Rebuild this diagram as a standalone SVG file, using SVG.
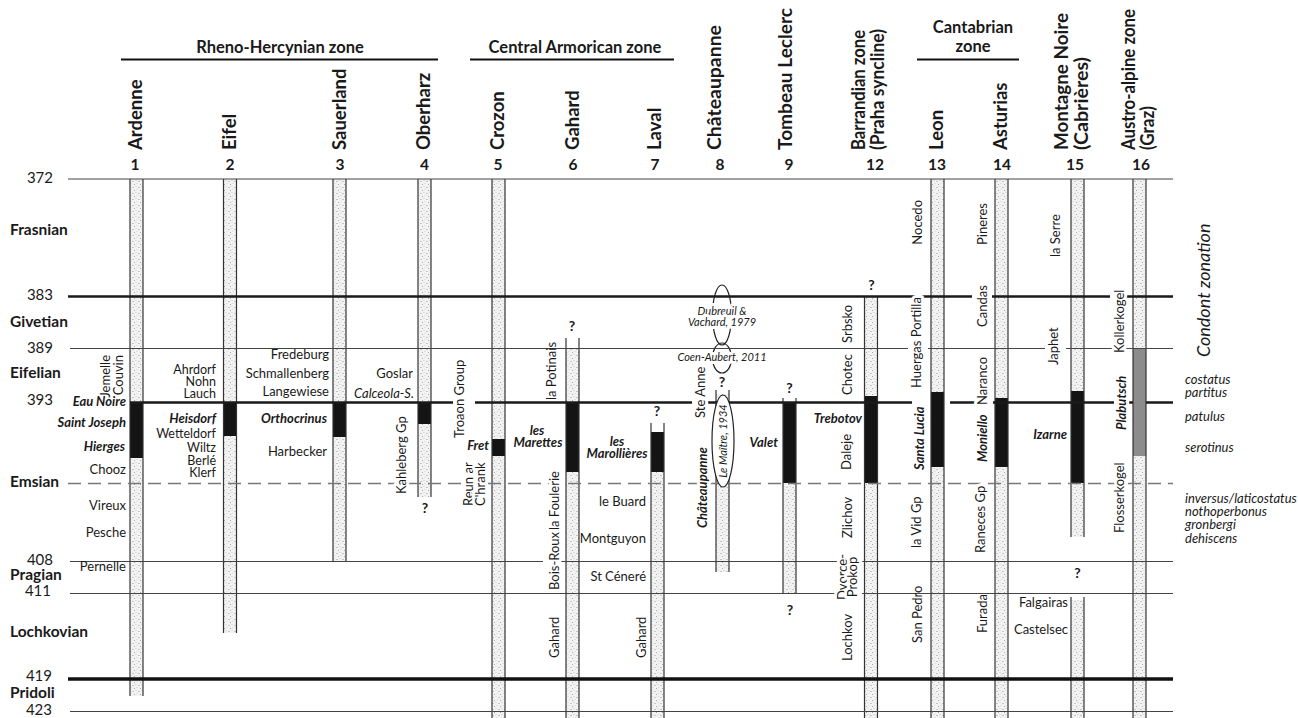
<svg xmlns="http://www.w3.org/2000/svg" width="1298" height="718" viewBox="0 0 1298 718">
<defs>
<pattern id="dots" patternUnits="userSpaceOnUse" width="6" height="6">
<rect width="6" height="6" fill="#f3f3f3"/>
<circle cx="1" cy="1.5" r="0.55" fill="#8a8a8a"/>
<circle cx="4" cy="0.5" r="0.45" fill="#a0a0a0"/>
<circle cx="2.5" cy="4.5" r="0.5" fill="#909090"/>
<circle cx="5" cy="3.5" r="0.4" fill="#aaaaaa"/>
</pattern>
</defs>
<style>
text{font-family:Lato,"Open Sans","DejaVu Sans",sans-serif;fill:#1a1a1a}
.hdr{font-size:16.5px;font-weight:bold;text-anchor:middle}
.ct{font-size:18.5px;font-weight:bold}
.num{font-size:15.5px;font-weight:bold;text-anchor:middle}
.age{font-size:15px;text-anchor:end}
.stg{font-size:15.5px;font-weight:bold}
.f{font-size:13px}
.s{font-size:12.5px}
.bi{font-size:13px;font-weight:bold;font-style:italic}
.it{font-size:13px;font-style:italic}
.ref{font-size:11px;font-style:italic}
.q{font-size:14px;font-weight:bold;text-anchor:middle}
.h{paint-order:stroke;stroke:#fff;stroke-width:6px;stroke-linejoin:round}
.e{text-anchor:end}
.m{text-anchor:middle}
.thin{stroke:#444;stroke-width:1;fill:none}
.thick{stroke:#1a1a1a;stroke-width:2.6;fill:none}
.dash{stroke:#777;stroke-width:1.6;stroke-dasharray:13 7;fill:none}
.side{stroke:#333;stroke-width:1.2}
.dot{fill:url(#dots)}
.blk{fill:#141414}
.gry{fill:#8c8c8c}
.ell{fill:none;stroke:#222;stroke-width:1.2}
</style>
<rect width="1298" height="718" fill="#fff"/>

<g id="headers">
<text class="hdr" x="280" y="53">Rheno-Hercynian zone</text>
<line x1="121" y1="59.5" x2="438" y2="59.5" stroke="#111" stroke-width="2"/>
<text class="hdr" x="575" y="53">Central Armorican zone</text>
<line x1="470" y1="59.5" x2="674" y2="59.5" stroke="#111" stroke-width="2"/>
<text class="hdr" x="973" y="33">Cantabrian</text>
<text class="hdr" x="973" y="52">zone</text>
<line x1="917" y1="59.5" x2="1019" y2="59.5" stroke="#111" stroke-width="2"/>
</g>

<g id="titles">
<text class="ct" transform="translate(141.5,150) rotate(-90)">Ardenne</text>
<text class="ct" transform="translate(236,150) rotate(-90)">Eifel</text>
<text class="ct" transform="translate(346,150) rotate(-90)">Sauerland</text>
<text class="ct" transform="translate(429.5,150) rotate(-90)">Oberharz</text>
<text class="ct" transform="translate(504,150) rotate(-90)">Crozon</text>
<text class="ct" transform="translate(579,150) rotate(-90)">Gahard</text>
<text class="ct" transform="translate(661,150) rotate(-90)">Laval</text>
<text class="ct" transform="translate(720.5,150) rotate(-90)" textLength="125" lengthAdjust="spacingAndGlyphs">Châteaupanne</text>
<text class="ct" transform="translate(791.5,150) rotate(-90)" textLength="142" lengthAdjust="spacingAndGlyphs">Tombeau Leclerc</text>
<text class="ct" transform="translate(865,150) rotate(-90)" textLength="120" lengthAdjust="spacingAndGlyphs">Barrandian zone</text>
<text class="ct" transform="translate(883.5,150) rotate(-90)" textLength="121" lengthAdjust="spacingAndGlyphs">(Praha syncline)</text>
<text class="ct" transform="translate(943,150) rotate(-90)">Leon</text>
<text class="ct" transform="translate(1007,150) rotate(-90)">Asturias</text>
<text class="ct" transform="translate(1068,150) rotate(-90)" textLength="137" lengthAdjust="spacingAndGlyphs">Montagne Noire</text>
<text class="ct" transform="translate(1088,150) rotate(-90)" textLength="93" lengthAdjust="spacingAndGlyphs">(Cabrières)</text>
<text class="ct" transform="translate(1134.5,150) rotate(-90)" textLength="141" lengthAdjust="spacingAndGlyphs">Austro-alpine zone</text>
<text class="ct" transform="translate(1154,150) rotate(-90)" textLength="44" lengthAdjust="spacingAndGlyphs">(Graz)</text>
<text class="num" x="135" y="170">1</text>
<text class="num" x="230" y="170">2</text>
<text class="num" x="340" y="170">3</text>
<text class="num" x="424.5" y="170">4</text>
<text class="num" x="498" y="170">5</text>
<text class="num" x="573" y="170">6</text>
<text class="num" x="655" y="170">7</text>
<text class="num" x="720" y="170">8</text>
<text class="num" x="789" y="170">9</text>
<text class="num" x="875" y="170">12</text>
<text class="num" x="937" y="170">13</text>
<text class="num" x="1002" y="170">14</text>
<text class="num" x="1075" y="170">15</text>
<text class="num" x="1141" y="170">16</text>
</g>

<g id="stages">
<text class="age" x="53" y="183">372</text>
<text class="stg" x="10" y="235">Frasnian</text>
<text class="age" x="53" y="300">383</text>
<text class="stg" x="10" y="327">Givetian</text>
<text class="age" x="53" y="353">389</text>
<text class="stg" x="10" y="378">Eifelian</text>
<text class="age" x="53" y="405">393</text>
<text class="stg" x="10" y="487">Emsian</text>
<text class="age" x="53" y="565">408</text>
<text class="stg" x="10" y="580">Pragian</text>
<text class="age" x="51" y="596">411</text>
<text class="stg" x="10" y="637">Lochkovian</text>
<text class="age" x="52" y="681">419</text>
<text class="stg" x="10" y="698">Pridoli</text>
<text class="age" x="52" y="715">423</text>
</g>

<g id="columns">
<g id="col-1">
<rect class="dot" x="130" y="179" width="13" height="517"/>
<rect class="blk" x="130" y="402" width="13" height="56"/>
<line class="side" x1="130" y1="179" x2="130" y2="696"/><line class="side" x1="143" y1="179" x2="143" y2="696"/>
</g>
<g id="col-2">
<rect class="dot" x="223.5" y="179" width="13" height="454"/>
<rect class="blk" x="223.5" y="402" width="13" height="34"/>
<line class="side" x1="223.5" y1="179" x2="223.5" y2="633"/><line class="side" x1="236.5" y1="179" x2="236.5" y2="633"/>
</g>
<g id="col-3">
<rect class="dot" x="333" y="179" width="13" height="382"/>
<rect class="blk" x="333" y="402" width="13" height="35"/>
<line class="side" x1="333" y1="179" x2="333" y2="561"/><line class="side" x1="346" y1="179" x2="346" y2="561"/>
</g>
<g id="col-4">
<rect class="dot" x="418" y="179" width="13" height="318"/>
<rect class="blk" x="418" y="402" width="13" height="22"/>
<line class="side" x1="418" y1="179" x2="418" y2="497"/><line class="side" x1="431" y1="179" x2="431" y2="497"/>
</g>
<g id="col-5">
<rect class="dot" x="492" y="179" width="13" height="539"/>
<rect class="blk" x="492" y="439" width="13" height="17"/>
<line class="side" x1="492" y1="179" x2="492" y2="718"/><line class="side" x1="505" y1="179" x2="505" y2="718"/>
</g>
<g id="col-6">
<rect class="dot" x="566" y="348" width="13" height="370"/>
<rect class="blk" x="566" y="402" width="13" height="70"/>
<line class="side" x1="566" y1="338" x2="566" y2="718"/><line class="side" x1="579" y1="338" x2="579" y2="718"/>
</g>
<g id="col-7">
<rect class="dot" x="651" y="432" width="13" height="286"/>
<rect class="blk" x="651" y="432" width="13" height="40"/>
<line class="side" x1="651" y1="423" x2="651" y2="718"/><line class="side" x1="664" y1="423" x2="664" y2="718"/>
</g>
<g id="col-8">
<rect class="dot" x="716" y="394" width="13" height="178"/>
<line class="side" x1="716" y1="390" x2="716" y2="572"/><line class="side" x1="729" y1="390" x2="729" y2="572"/>
</g>
<g id="col-9">
<rect class="dot" x="783" y="402" width="13" height="191"/>
<rect class="blk" x="783" y="402" width="13" height="81"/>
<line class="side" x1="783" y1="398" x2="783" y2="593"/><line class="side" x1="796" y1="398" x2="796" y2="593"/>
</g>
<g id="col-12">
<rect class="dot" x="864.5" y="296" width="13" height="422"/>
<rect class="blk" x="864.5" y="396" width="13" height="87"/>
<line class="side" x1="864.5" y1="296" x2="864.5" y2="718"/><line class="side" x1="877.5" y1="296" x2="877.5" y2="718"/>
</g>
<g id="col-13">
<rect class="dot" x="931" y="179" width="13" height="539"/>
<rect class="blk" x="931" y="392" width="13" height="75"/>
<line class="side" x1="931" y1="179" x2="931" y2="718"/><line class="side" x1="944" y1="179" x2="944" y2="718"/>
</g>
<g id="col-14">
<rect class="dot" x="995" y="179" width="13" height="539"/>
<rect class="blk" x="995" y="398" width="13" height="69"/>
<line class="side" x1="995" y1="179" x2="995" y2="718"/><line class="side" x1="1008" y1="179" x2="1008" y2="718"/>
</g>
<g id="col-15">
<rect class="dot" x="1071" y="179" width="13" height="358"/>
<rect class="blk" x="1071" y="391" width="13" height="92"/>
<line class="side" x1="1071" y1="179" x2="1071" y2="537"/><line class="side" x1="1084" y1="179" x2="1084" y2="537"/>
<rect class="dot" x="1071" y="600" width="13" height="118"/>
<line class="side" x1="1071" y1="597" x2="1071" y2="718"/><line class="side" x1="1084" y1="597" x2="1084" y2="718"/>
</g>
<g id="col-16">
<rect class="dot" x="1133" y="179" width="13" height="539"/>
<rect class="gry" x="1133" y="348" width="13" height="108"/>
<line class="side" x1="1133" y1="179" x2="1133" y2="718"/><line class="side" x1="1146" y1="179" x2="1146" y2="718"/>
</g>
</g>

<g id="connectors">
<line class="thin" x1="68" y1="179" x2="1173" y2="179"/>
<path class="thick" d="M68 296.5H972M992 296.5H1110M1123 296.5H1173"/>
<ellipse class="ell" cx="722" cy="315" rx="9.5" ry="30"/>
<ellipse class="ell" cx="722" cy="358" rx="9.5" ry="15"/>
<path class="thin" d="M70 348.5H908M928 348.5H1045M1066 348.5H1173"/>
<path class="thick" d="M130 402.5H453M475 402.5H692M708 402.5H912M950 402.5H975M993 402.5H1114M1129 402.5H1133M1146 402.5H1173"/>
<line class="dash" x1="68" y1="483.5" x2="1173" y2="483.5"/>
<path class="thin" d="M70 561.5H543M561 561.5H837M862 561.5H1173"/>
<path class="thin" d="M70 593.5H837M862 593.5H1173"/>
<line x1="68" y1="679" x2="1173" y2="679" stroke="#111" stroke-width="3.5"/>
<line class="thin" x1="70" y1="711.5" x2="1173" y2="711.5"/>
<ellipse cx="723" cy="441" rx="11" ry="46" fill="#fff" stroke="#222" stroke-width="1.2"/>
</g>

<g id="labels">
<text class="f e" transform="translate(110,355) rotate(-90)">Jemelle</text>
<text class="f e" transform="translate(123,355) rotate(-90)">Couvin</text>
<text class="bi e" x="126" y="406">Eau Noire</text>
<text class="bi e" x="126" y="427">Saint Joseph</text>
<text class="bi e" x="125" y="451">Hierges</text>
<text class="f e" x="126" y="474">Chooz</text>
<text class="f e" x="126" y="510">Vireux</text>
<text class="f e" x="126" y="537">Pesche</text>
<text class="f e" x="126" y="571">Pernelle</text>

<text class="s e" x="216" y="373.5">Ahrdorf</text>
<text class="s e" x="216" y="386">Nohn</text>
<text class="s e" x="216" y="397.5">Lauch</text>
<text class="bi e" x="216" y="423">Heisdorf</text>
<text class="s e" x="216" y="438">Wetteldorf</text>
<text class="s e" x="216" y="452">Wiltz</text>
<text class="s e" x="216" y="464.5">Berlé</text>
<text class="s e" x="216" y="476.5">Klerf</text>

<text class="f e" x="329" y="359">Fredeburg</text>
<text class="f e" x="329" y="378">Schmallenberg</text>
<text class="f e" x="329" y="396">Langewiese</text>
<text class="bi" x="261" y="423">Orthocrinus</text>
<text class="f e" x="327" y="456">Harbecker</text>

<text class="f e" x="413" y="378">Goslar</text>
<text class="it e" x="414" y="397.5">Calceola-S.</text>
<text class="f h" transform="translate(405.5,494) rotate(-90)">Kahleberg Gp</text>
<text class="q" x="425" y="513">?</text>

<text class="f h" transform="translate(464,438) rotate(-90)">Troaon Group</text>
<text class="bi e" x="489" y="450">Fret</text>
<text class="f h" transform="translate(473,506) rotate(-90)">Reun ar</text>
<text class="f h" transform="translate(485,506) rotate(-90)">C'hrank</text>

<text class="q" x="572" y="331">?</text>
<text class="f" transform="translate(556,400) rotate(-90)">la Potinais</text>
<text class="bi m" x="537" y="434.5">les</text>
<text class="bi m" x="538" y="446.5">Marettes</text>
<text class="f h" transform="translate(559,530) rotate(-90)">la Foulerie</text>
<text class="f h" transform="translate(559,590) rotate(-90)">Bois-Roux</text>
<text class="f" transform="translate(559,658) rotate(-90)">Gahard</text>

<text class="q" x="657" y="416">?</text>
<text class="bi m" x="617" y="445.5">les</text>
<text class="bi m" x="617" y="457.5">Marollières</text>
<text class="f e" x="646" y="506">le Buard</text>
<text class="f e" x="646" y="543">Montguyon</text>
<text class="f e" x="646" y="581">St Céneré</text>
<text class="f" transform="translate(646,658) rotate(-90)">Gahard</text>

<text class="ref m h" x="722" y="315">Dubreuil &amp;</text>
<text class="ref m h" x="722" y="326">Vachard, 1979</text>
<text class="ref m h" x="722" y="360.5">Coen-Aubert, 2011</text>
<text class="q" x="722" y="387">?</text>
<text class="f h" transform="translate(705,418) rotate(-90)">Ste Anne</text>
<text class="bi h" transform="translate(707,528) rotate(-90)">Châteaupanne</text>
<text class="ref m" transform="translate(726.5,441) rotate(-90)">Le Maître, 1934</text>

<text class="q" x="789.5" y="393">?</text>
<text class="bi e" x="778" y="446.5">Valet</text>
<text class="q" x="790" y="615">?</text>

<text class="q" x="871.5" y="290">?</text>
<text class="f" transform="translate(852,343) rotate(-90)">Srbsko</text>
<text class="f" transform="translate(852,395) rotate(-90)">Chotec</text>
<text class="bi e" x="862" y="422.5">Trebotov</text>
<text class="f" transform="translate(850.5,470) rotate(-90)">Daleje</text>
<text class="f" transform="translate(852,538) rotate(-90)">Zlichov</text>
<text class="f m h" transform="translate(847,577) rotate(-90)">Dvorce-</text>
<text class="f m h" transform="translate(857,577) rotate(-90)">Prokop</text>
<text class="f" transform="translate(852,661) rotate(-90)">Lochkov</text>

<text class="f e" transform="translate(922,200) rotate(-90)">Nocedo</text>
<text class="f h" transform="translate(921,388) rotate(-90)">Huergas Portilla</text>
<text class="bi h" transform="translate(924,470) rotate(-90)">Santa Lucia</text>
<text class="f" transform="translate(920.5,548) rotate(-90)">la Vid Gp</text>
<text class="f" transform="translate(922,643) rotate(-90)">San Pedro</text>

<text class="f e" transform="translate(987,203) rotate(-90)">Pineres</text>
<text class="f h" transform="translate(987,327) rotate(-90)">Candas</text>
<text class="f h" transform="translate(987,405) rotate(-90)">Naranco</text>
<text class="bi" transform="translate(987,462) rotate(-90)">Moniello</text>
<text class="f h" transform="translate(985,553) rotate(-90)">Raneces Gp</text>
<text class="f" transform="translate(987,633) rotate(-90)">Furada</text>

<text class="f" transform="translate(1060,257) rotate(-90)">la Serre</text>
<text class="f h" transform="translate(1058,365) rotate(-90)">Japhet</text>
<text class="bi e" x="1067" y="439">Izarne</text>
<text class="q" x="1077.5" y="578">?</text>
<text class="f e" x="1068" y="607">Falgairas</text>
<text class="f e" x="1068" y="634">Castelsec</text>

<text class="f h" transform="translate(1124,353) rotate(-90)">Kollerkogel</text>
<text class="bi h" transform="translate(1126,430) rotate(-90)">Plabutsch</text>
<text class="f h" transform="translate(1124,533) rotate(-90)">Flosserkogel</text>

<text style="font-size:18px;font-style:italic" transform="translate(1210,357) rotate(-90)">Condont zonation</text>
<text class="it" x="1185" y="384">costatus</text>
<text class="it" x="1185" y="396.5">partitus</text>
<text class="it" x="1185" y="421">patulus</text>
<text class="it" x="1185" y="452">serotinus</text>
<text class="it" x="1185" y="503">inversus/laticostatus</text>
<text class="it" x="1185" y="516">nothoperbonus</text>
<text class="it" x="1185" y="529">gronbergi</text>
<text class="it" x="1185" y="543">dehiscens</text>
</g>
</svg>
